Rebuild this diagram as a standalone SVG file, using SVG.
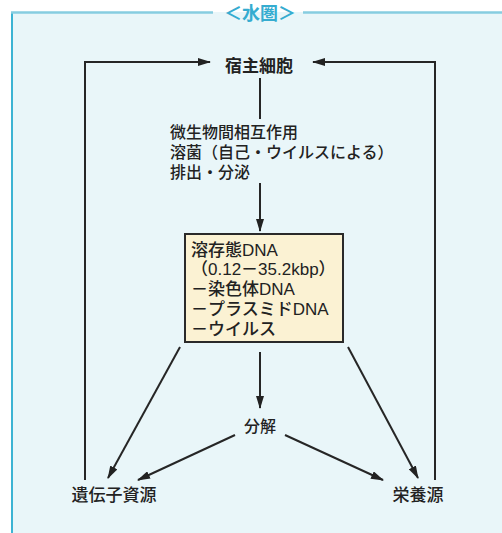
<svg xmlns="http://www.w3.org/2000/svg" width="502" height="533" viewBox="0 0 502 533">
<style>
.t{font-family:"Liberation Sans","Noto Sans CJK JP",sans-serif;fill:#222;font-size:16px;font-weight:500}
.c{stroke:#262626;stroke-width:2;fill:none}
.a{marker-end:url(#ah)}
</style>
<defs>
<marker id="ah" markerUnits="userSpaceOnUse" markerWidth="13" markerHeight="8" refX="12" refY="4" orient="auto">
<path d="M0,0 L13,4 L0,8 z" fill="#222"/>
</marker>
</defs>
<rect x="0" y="0" width="502" height="533" fill="#ffffff"/>
<rect x="11" y="12" width="491" height="521" fill="#e9f6f9"/>
<g id="frame">
<line x1="12" y1="12" x2="12" y2="533" stroke="#3cb3d3" stroke-width="2"/>
<line x1="11" y1="12.5" x2="213" y2="12.5" stroke="#86cde0" stroke-width="2.5"/>
<line x1="303" y1="12.5" x2="502" y2="12.5" stroke="#86cde0" stroke-width="2.5"/>
<text x="260" y="20" text-anchor="middle" style="font-family:'Liberation Sans','Noto Sans CJK JP',sans-serif;font-size:18px;font-weight:bold;fill:#35acd0">＜水圏＞</text>
</g>
<g id="connectors">
<polyline class="c a" points="85,480 85,62 210,62"/>
<polyline class="c a" points="435,480 435,62 313,62"/>
<line class="c" x1="260" y1="78" x2="260" y2="119"/>
<line class="c a" x1="260" y1="183" x2="260" y2="231"/>
<line class="c a" x1="180" y1="347" x2="108" y2="478"/>
<line class="c a" x1="348" y1="347" x2="418" y2="478"/>
<line class="c a" x1="260" y1="352" x2="260" y2="408"/>
<line class="c a" x1="235" y1="435" x2="138" y2="480"/>
<line class="c a" x1="285" y1="435" x2="383" y2="480"/>
</g>
<g id="host">
<text class="t" x="259" y="72" text-anchor="middle" style="font-size:17px;font-weight:bold">宿主細胞</text>
</g>
<g id="process">
<text class="t" x="170" y="138"><tspan x="170" y="138">微生物間相互作用</tspan><tspan x="170" y="158">溶菌（自己・ウイルスによる）</tspan><tspan x="170" y="178">排出・分泌</tspan></text>
</g>
<g id="dna">
<rect x="185" y="234" width="158" height="108" fill="#fbf2d3" stroke="#2a2a2a" stroke-width="2"/>
<text class="t" x="191" y="256" style="font-size:17px"><tspan x="191" y="256">溶存態DNA</tspan><tspan x="191" y="275">（0.12－35.2kbp）</tspan><tspan x="191" y="295">－染色体DNA</tspan><tspan x="191" y="315">－プラスミドDNA</tspan><tspan x="191" y="335">－ウイルス</tspan></text>
</g>
<g id="decomp">
<text class="t" x="260" y="432" text-anchor="middle">分解</text>
</g>
<g id="gene">
<text class="t" x="114" y="501" text-anchor="middle" style="font-size:17px">遺伝子資源</text>
</g>
<g id="nutrient">
<text class="t" x="418" y="501" text-anchor="middle" style="font-size:17px">栄養源</text>
</g>
</svg>
